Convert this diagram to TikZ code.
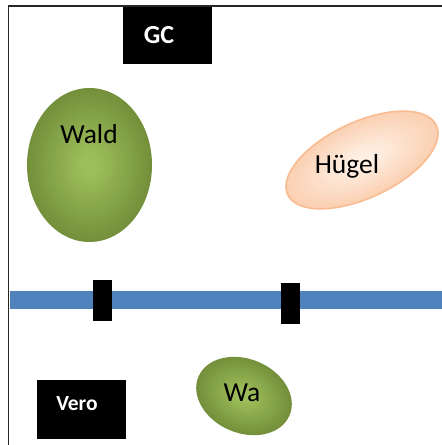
\documentclass[tikz,border=0pt]{standalone}
\usepackage{fontspec}
\setmainfont{Carlito}
\definecolor{gin}{RGB}{157,189,90}
\definecolor{gout}{RGB}{116,144,58}
\definecolor{pin}{RGB}{254,240,228}
\definecolor{pout}{RGB}{251,208,178}
\definecolor{pline}{RGB}{249,188,146}
\definecolor{barblue}{RGB}{79,129,189}
\newcommand\gradblob[7]{% cx cy rot rx ry inner outer
  \begin{scope}[shift={(#1,#2)}, rotate=#3]
    \foreach \i in {0,...,40} {
      \pgfmathsetmacro\s{1-\i*0.85/40}
      \pgfmathsetmacro\p{100*\i/40}
      \fill[#6!\p!#7] (0,0) ellipse [x radius=\s*#4 pt, y radius=\s*#5 pt];
    }
  \end{scope}}
\tikzset{
  frameline/.style={line width=1.6pt, draw=black!85},
  blackbox/.style={fill=black, draw=none},
  boxlabel/.style={text=white, font=\bfseries},
  blobtext/.style={text=black, font=\fontsize{27.5}{30}\selectfont},
}
\begin{document}
\begin{tikzpicture}[x=1pt,y=-1pt]
\useasboundingbox (0,0) rectangle (442,445);
% frame
\coordinate (tl) at (8.5,6);
\coordinate (tr) at (442,6);
\coordinate (bl) at (8.5,445);
\draw[frameline] (tr) -- (tl) -- (bl);
% GC box
\fill[blackbox] (123,7) rectangle (212,64);
\node[boxlabel, font=\bfseries\fontsize{26}{28}\selectfont] (gc) at (159,35) {GC};
% Wald
\gradblob{89.5}{165}{0}{62.5}{77}{gin}{gout}
\node[blobtext] (wald) at (89,134) {Wald};
% Huegel
\gradblob{362}{160}{25}{82}{38}{pin}{pout}
\draw[pline, line width=1.6pt, shift={(362,160)}, rotate=25] (0,0) ellipse [x radius=82pt, y radius=38pt];
\node[blobtext] (huegel) at (347,166) {Hügel};
% blue bar
\fill[barblue] (9.5,291) rectangle (442,309);
\fill[blackbox] (93,280) rectangle (112,321);
\fill[blackbox] (281,283) rectangle (300,324);
% Vero box
\fill[blackbox] (37,380) rectangle (126,439);
\node[boxlabel, font=\bfseries\fontsize{21.5}{24}\selectfont] (vero) at (77,404) {Vero};
% Wa
\gradblob{244}{396}{-23}{49.5}{37}{gin}{gout}
\node[blobtext] (wa) at (242,393) {Wa};
\end{tikzpicture}
\end{document}
